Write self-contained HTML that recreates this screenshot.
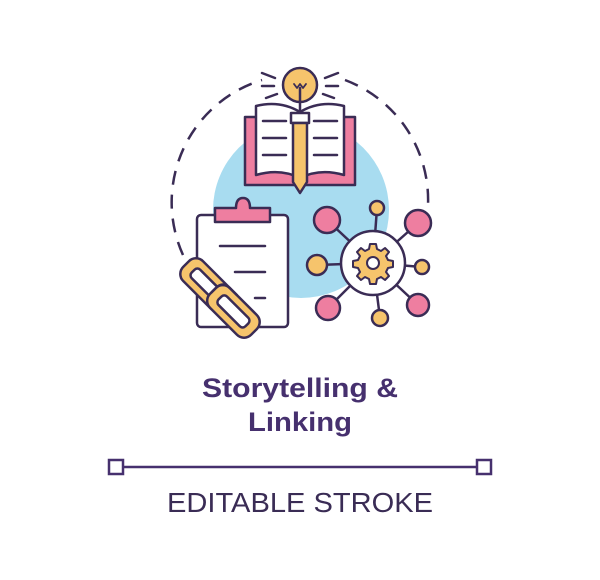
<!DOCTYPE html>
<html><head><style>html,body{margin:0;padding:0;background:#fff}</style></head><body>
<svg width="600" height="575" viewBox="0 0 600 575" xmlns="http://www.w3.org/2000/svg">
<rect width="600" height="575" fill="#fff"/>
<circle cx="301" cy="210" r="88" fill="#a8dcf0"/>
<path d="M183 255 A128 128 0 0 1 262 80" fill="none" stroke="#3a2c55" stroke-width="2.5" stroke-dasharray="14 10"/>
<path d="M345 80 A128 128 0 0 1 428 205" fill="none" stroke="#3a2c55" stroke-width="2.5" stroke-dasharray="14 10"/>
<g stroke="#3a2c55" stroke-width="2.5" stroke-linejoin="round" stroke-linecap="round">
<rect x="245" y="117" width="110" height="68" fill="#ee7ea0"/>
<path d="M256 106 Q280 100 300 112 Q320 100 344 106 V175 Q320 168 300 178 Q280 168 256 175 Z" fill="#fff"/>
<line x1="300" y1="112" x2="300" y2="178"/>
<g fill="none"><line x1="263" y1="121" x2="286" y2="121"/><line x1="263" y1="138" x2="286" y2="138"/><line x1="263" y1="155" x2="286" y2="155"/><line x1="314" y1="121" x2="337" y2="121"/><line x1="314" y1="138" x2="337" y2="138"/><line x1="314" y1="155" x2="337" y2="155"/></g>
<circle cx="300" cy="85" r="17" fill="#f6c46c"/>
<path d="M294 84 l3 4 l3 -4 l3 4 l3 -4" fill="none" stroke-width="1.8"/>
<line x1="300" y1="88" x2="300" y2="115"/>
<rect x="291" y="113" width="18" height="10" fill="#fff"/>
<path d="M293 123 H307 V182 L300 193 L293 182 Z" fill="#f6c46c"/>
<g fill="none"><line x1="262" y1="73" x2="275" y2="78"/><line x1="262" y1="86" x2="274" y2="86"/><line x1="266" y1="98" x2="277" y2="94"/><line x1="338" y1="73" x2="325" y2="78"/><line x1="338" y1="86" x2="326" y2="86"/><line x1="334" y1="98" x2="323" y2="94"/></g>
<rect x="197" y="215" width="91" height="112" rx="4" fill="#fff"/>
<path d="M215 222 V208 H236 Q236 198 243 198 Q250 198 250 208 H270 V222 Z" fill="#ee7ea0"/>
<g fill="none"><line x1="220" y1="246" x2="265" y2="246"/><line x1="235" y1="272" x2="265" y2="272"/><line x1="255" y1="298" x2="265" y2="298"/></g>
<g transform="rotate(45 220 298)">
<rect x="172" y="284" width="58" height="28" rx="10" fill="#f6c46c"/>
<rect x="182" y="292" width="38" height="12" rx="4" fill="#fff"/>
<rect x="210" y="284" width="58" height="28" rx="10" fill="#f6c46c"/>
<rect x="220" y="292" width="38" height="12" rx="4" fill="#fff"/>
<path d="M210 300 V294 Q210 284 220 284 H230" fill="none"/>
</g>
<g fill="none"><line x1="373" y1="263" x2="327" y2="220"/><line x1="373" y1="263" x2="377" y2="208"/><line x1="373" y1="263" x2="418" y2="223"/><line x1="373" y1="263" x2="317" y2="265"/><line x1="373" y1="263" x2="422" y2="267"/><line x1="373" y1="263" x2="328" y2="308"/><line x1="373" y1="263" x2="380" y2="318"/><line x1="373" y1="263" x2="418" y2="305"/></g>
<circle cx="327" cy="220" r="13" fill="#ee7ea0"/>
<circle cx="377" cy="208" r="7" fill="#f6c46c"/>
<circle cx="418" cy="223" r="13" fill="#ee7ea0"/>
<circle cx="317" cy="265" r="10" fill="#f6c46c"/>
<circle cx="422" cy="267" r="7" fill="#f6c46c"/>
<circle cx="328" cy="308" r="12" fill="#ee7ea0"/>
<circle cx="380" cy="318" r="8" fill="#f6c46c"/>
<circle cx="418" cy="305" r="11" fill="#ee7ea0"/>
<circle cx="373" cy="263" r="32" fill="#fff"/>
<path d="M370 244 h6 l1 5 l4 2 l4 -3 l4 4 l-3 4 l2 4 l5 1 v6 l-5 1 l-2 4 l3 4 l-4 4 l-4 -3 l-4 2 l-1 5 h-6 l-1 -5 l-4 -2 l-4 3 l-4 -4 l3 -4 l-2 -4 l-5 -1 v-6 l5 -1 l2 -4 l-3 -4 l4 -4 l4 3 l4 -2 Z" fill="#f6c46c" stroke-width="2"/>
<circle cx="373" cy="263" r="6" fill="#fff" stroke-width="2"/>
</g>
<g font-family="Liberation Sans, sans-serif" fill="#46306e" text-anchor="middle">
<text x="300" y="397" font-size="27" font-weight="bold" textLength="196" lengthAdjust="spacingAndGlyphs">Storytelling &amp;</text>
<text x="300" y="431" font-size="27" font-weight="bold" textLength="104" lengthAdjust="spacingAndGlyphs">Linking</text>
<text x="300" y="512" font-size="28" fill="#3a2c55" textLength="266" lengthAdjust="spacingAndGlyphs">EDITABLE STROKE</text>
</g>
<g stroke="#46306e" stroke-width="2.5" fill="#fff">
<line x1="123" y1="467" x2="477" y2="467"/>
<rect x="109" y="460" width="14" height="14"/>
<rect x="477" y="460" width="14" height="14"/>
</g>
</svg>
</body></html>
